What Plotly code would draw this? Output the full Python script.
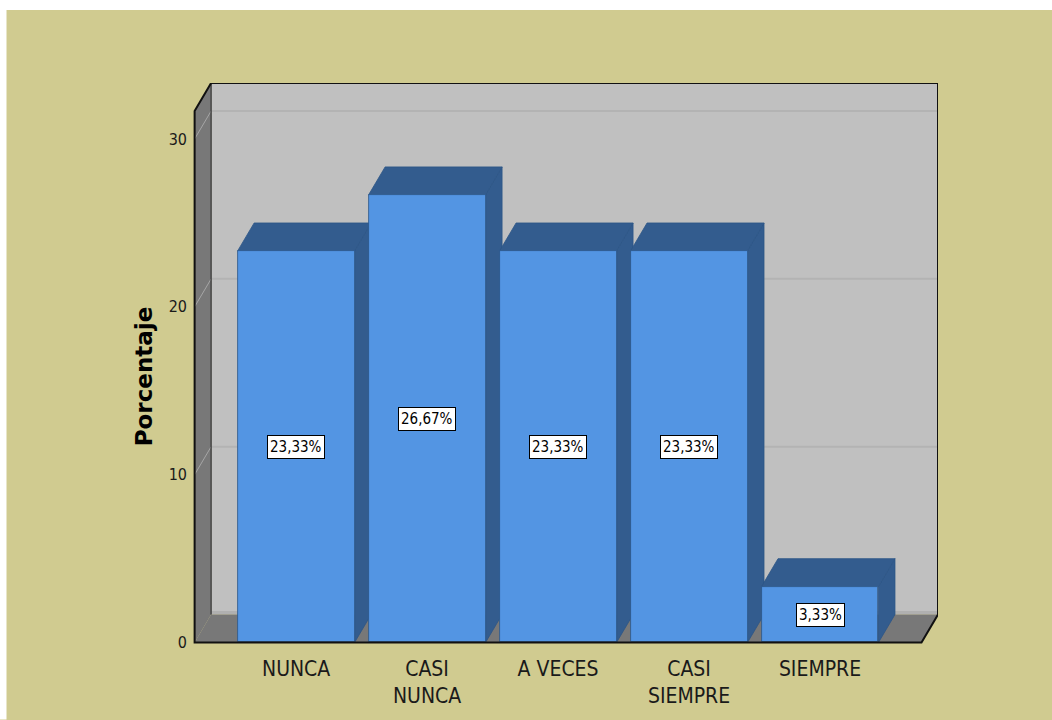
import plotly.graph_objects as go

# Datos del gráfico
categorias = ["NUNCA", "CASI<br>NUNCA", "A VECES", "CASI<br>SIEMPRE", "SIEMPRE"]
porcentajes = [23.33, 26.67, 23.33, 23.33, 3.33]
marcas_y = [0, 10, 20, 30]
titulo_y = "Porcentaje"

# Colores
FONDO = "#D0CB90"
PARED = "#C0C0C0"
PARED_OSCURA = "#787878"
CARA_FRENTE = "#5395E3"
CARA_LATERAL = "#335C8E"
BORDE_BARRA = "#2C5586"

FUENTE_ESTRECHA = "DejaVu Sans Condensed, Liberation Sans Narrow, Liberation Sans"

# Geometría de la caja 3D (en unidades de categoría / porcentaje)
FIG_W, FIG_H = 1052, 720
ANCHO_BARRA = 0.893
X0, X1 = -0.775, 4.775          # bordes frontales del suelo
DX, DY = 0.126, 1.664           # desplazamiento de profundidad
YTOP = 31.67                    # altura frontal de las paredes
PAD_X, PAD_Y = 0.02, 0.15       # margen para que los bordes no se recorten

ML, MR, MT, MB = 195 - 2.6, 114, 83, 77 - 2.5

idx = list(range(len(categorias)))
etiquetas = [f"{v:.2f}%".replace(".", ",") for v in porcentajes]

fig = go.Figure()

# Caras superior y lateral de cada barra
for i, v in zip(idx, porcentajes):
    xl = i - ANCHO_BARRA / 2
    xr = i + ANCHO_BARRA / 2
    fig.add_trace(go.Scatter(
        x=[xr, xr, xr + DX, xr + DX, xr],
        y=[0, v, v + DY, DY, 0],
        mode="lines", fill="toself", fillcolor=CARA_LATERAL,
        line=dict(color=BORDE_BARRA, width=0.8),
        hoverinfo="skip", showlegend=False, zorder=0,
    ))
    fig.add_trace(go.Scatter(
        x=[xl, xr, xr + DX, xl + DX, xl],
        y=[v, v, v + DY, v + DY, v],
        mode="lines", fill="toself", fillcolor=CARA_LATERAL,
        line=dict(color=BORDE_BARRA, width=0.8),
        hoverinfo="skip", showlegend=False, zorder=0,
    ))

# Cara frontal de las barras
fig.add_trace(go.Bar(
    x=idx, y=porcentajes, width=ANCHO_BARRA,
    marker=dict(color=CARA_FRENTE, line=dict(color=BORDE_BARRA, width=0.8)),
    hoverinfo="skip", showlegend=False, zorder=1,
))

shapes = []
# Pared del fondo, pared izquierda y suelo
shapes.append(dict(type="rect", xref="x", yref="y", layer="below",
                   x0=X0 + DX, x1=X1 + DX, y0=DY, y1=YTOP + DY,
                   fillcolor=PARED, line=dict(width=0)))
shapes.append(dict(type="path", xref="x", yref="y", layer="below",
                   path=f"M {X0},0 L {X0},{YTOP} L {X0+DX},{YTOP+DY} L {X0+DX},{DY} Z",
                   fillcolor=PARED_OSCURA, line=dict(width=0)))
shapes.append(dict(type="path", xref="x", yref="y", layer="below",
                   path=f"M {X0},0 L {X1},0 L {X1+DX},{DY} L {X0+DX},{DY} Z",
                   fillcolor=PARED_OSCURA, line=dict(width=0)))
# Líneas de cuadrícula
for m in marcas_y:
    if m > 0:
        shapes.append(dict(type="line", xref="x", yref="y", layer="below",
                           x0=X0 + DX, x1=X1 + DX, y0=m + DY, y1=m + DY,
                           line=dict(color="#B3B3B3", width=2)))
        shapes.append(dict(type="line", xref="x", yref="y", layer="below",
                           x0=X0, x1=X0 + DX, y0=m, y1=m + DY,
                           line=dict(color="#A6A6A6", width=1)))
shapes.append(dict(type="line", xref="x", yref="y", layer="below",
                   x0=X0 + DX, x1=X1 + DX, y0=DY + 0.12, y1=DY + 0.12,
                   line=dict(color="#B0B0B0", width=3)))
# Aristas interiores
shapes.append(dict(type="line", xref="x", yref="y", layer="below",
                   x0=X0 + DX, x1=X0 + DX, y0=DY, y1=YTOP + DY,
                   line=dict(color="#333333", width=1.2)))
# Contorno exterior de la caja
shapes.append(dict(type="path", xref="x", yref="y", layer="above",
                   path=(f"M {X0},0 L {X0},{YTOP} L {X0+DX},{YTOP+DY} "
                         f"L {X1+DX},{YTOP+DY} L {X1+DX},{DY} L {X1},0 Z"),
                   line=dict(color="#111111", width=2)))

# Franjas blancas del borde de la imagen
plot_w = FIG_W - ML - MR
plot_h = FIG_H - MT - MB
def px_x(p):
    return (p - ML) / plot_w
def px_y(p):
    return (FIG_H - MB - p) / plot_h
shapes.append(dict(type="rect", xref="paper", yref="paper", layer="below",
                   x0=px_x(0), x1=px_x(FIG_W), y0=px_y(10), y1=px_y(0),
                   fillcolor="white", line=dict(width=0)))
shapes.append(dict(type="rect", xref="paper", yref="paper", layer="below",
                   x0=px_x(0), x1=px_x(7), y0=px_y(FIG_H), y1=px_y(0),
                   fillcolor="white", line=dict(width=0)))

annotations = []
for i, v, t in zip(idx, porcentajes, etiquetas):
    annotations.append(dict(
        x=i, y=v / 2, xref="x", yref="y", text=t, showarrow=False,
        bgcolor="white", bordercolor="black", borderwidth=1, borderpad=2,
        font=dict(family=FUENTE_ESTRECHA, size=15, color="black"),
    ))
annotations.append(dict(
    x=px_x(144), y=px_y(377), xref="paper", yref="paper", text=titulo_y,
    textangle=-90, showarrow=False, xanchor="center", yanchor="middle",
    font=dict(family="DejaVu Sans, Liberation Sans", size=23, color="black",
              weight="bold"),
))

fig.update_layout(
    width=FIG_W, height=FIG_H,
    margin=dict(l=ML, r=MR, t=MT, b=MB, pad=0, autoexpand=False),
    paper_bgcolor=FONDO, plot_bgcolor="rgba(0,0,0,0)",
    shapes=shapes, annotations=annotations,
    bargap=0, showlegend=False,
    xaxis=dict(
        range=[X0 - PAD_X, X1 + DX], tickmode="array", tickvals=idx,
        ticktext=categorias, showgrid=False, zeroline=False, showline=False,
        ticks="", ticklabelstandoff=9, fixedrange=True, automargin=False,
        tickfont=dict(family=FUENTE_ESTRECHA, size=21, color="#1a1a1a"),
    ),
    yaxis=dict(
        range=[-PAD_Y, YTOP + DY], tickmode="array", tickvals=marcas_y,
        showgrid=False, zeroline=False, showline=False, ticks="",
        ticklabelstandoff=4, fixedrange=True, automargin=False,
        tickfont=dict(family=FUENTE_ESTRECHA, size=16, color="#1a1a1a"),
    ),
)

fig.write_html("out.html")
